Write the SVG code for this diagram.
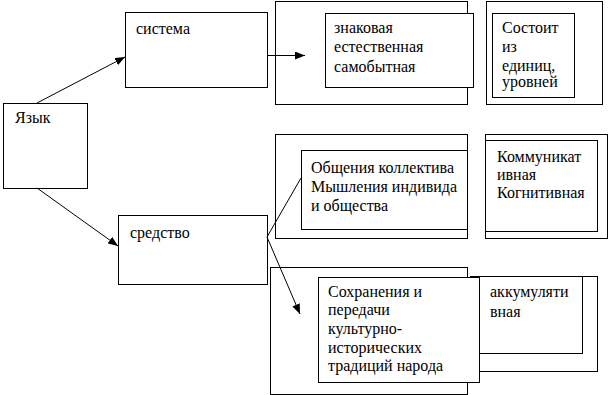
<svg xmlns="http://www.w3.org/2000/svg" width="609" height="395" viewBox="0 0 609 395">
<style>
rect{fill:#fff;stroke:#000;stroke-width:1}
text{font-family:'Liberation Serif','Times New Roman',serif;font-size:16px;fill:#000}
.c line{stroke:#000;stroke-width:1}
</style>
<defs>
<marker id="ah" viewBox="0 0 10 8" refX="10" refY="4" markerWidth="10" markerHeight="8" markerUnits="userSpaceOnUse" orient="auto">
<path d="M0,0 L10,4 L0,8 Z" fill="#000"/>
</marker>
</defs>
<rect x="0" y="0" width="609" height="395" style="stroke:none"/>
<g id="yazyk"><rect x="3.5" y="103.5" width="84" height="85"/><text x="15" y="123">Язык</text></g>
<g id="sistema"><rect x="125.5" y="12.5" width="142" height="75"/><text x="136" y="34">система</text></g>
<g id="sredstvo"><rect x="118.5" y="215.5" width="149" height="69"/><text x="130" y="238">средство</text></g>
<g id="znak-outer"><rect x="275.5" y="1.5" width="192" height="103"/></g>
<g id="znak"><rect x="325.5" y="13.5" width="148" height="74"/><text x="334" y="33">знаковая</text><text x="334" y="52">естественная</text><text x="334" y="72">самобытная</text></g>
<g id="sostoit-outer"><rect x="486.5" y="1.5" width="116" height="103"/></g>
<g id="sostoit"><rect x="492.5" y="13.5" width="82" height="84"/><text x="502" y="33">Состоит</text><text x="502" y="52">из</text><text x="502" y="71">единиц,</text><text x="502" y="87">уровней</text></g>
<g id="obsh-outer"><rect x="275.5" y="134.5" width="192" height="104"/></g>
<g id="obsh"><rect x="301.5" y="150.5" width="166" height="79"/><text x="311" y="173">Общения коллектива</text><text x="311" y="192">Мышления индивида</text><text x="311" y="211">и общества</text></g>
<g id="komm-outer"><rect x="485.5" y="134.5" width="122" height="104"/></g>
<g id="komm"><rect x="485.5" y="140.5" width="112" height="91"/><text x="497" y="162">Коммуникат</text><text x="497" y="180">ивная</text><text x="497" y="198">Когнитивная</text></g>
<g id="sohr-outer"><rect x="270.5" y="267.5" width="197" height="127"/></g>
<g id="akk-outer"><rect x="470.5" y="276.5" width="127" height="95"/></g>
<g id="akk"><rect x="478.5" y="276.5" width="104" height="77"/><text x="490" y="297">аккумуляти</text><text x="490" y="317">вная</text></g>
<g id="sohr"><rect x="318.5" y="277.5" width="161" height="105"/><text x="328" y="297">Сохранения и</text><text x="328" y="315">передачи</text><text x="328" y="334">культурно-</text><text x="328" y="353">исторических</text><text x="328" y="371">традиций народа</text></g>
<g class="c" id="connectors">
<line x1="37" y1="103" x2="125" y2="57" marker-end="url(#ah)"/>
<line x1="267" y1="55.5" x2="305" y2="55.5" marker-end="url(#ah)"/>
<line x1="37" y1="188" x2="118" y2="246" marker-end="url(#ah)"/>
<line x1="267" y1="237" x2="301" y2="178"/>
<line x1="267" y1="237" x2="300" y2="314" marker-end="url(#ah)"/>
</g>
</svg>
